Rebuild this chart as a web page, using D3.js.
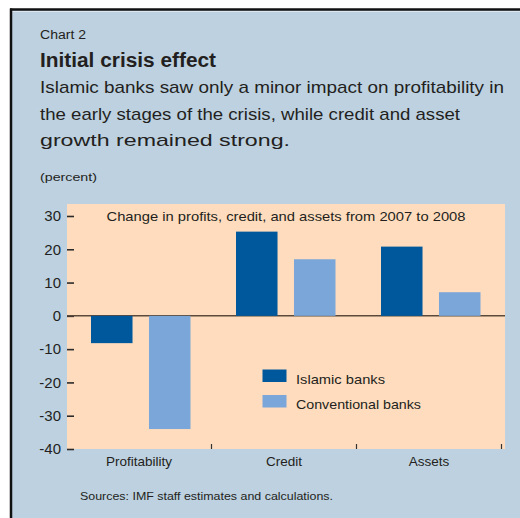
<!DOCTYPE html>
<html>
<head>
<meta charset="utf-8">
<script src="https://cdn.jsdelivr.net/npm/d3@7"></script>
<style>
  html, body { margin: 0; padding: 0; background: #ffffff; }
  svg { display: block; }
  text { font-family: "Liberation Sans Narrow", "Arial Narrow", "Liberation Sans", Arial, sans-serif; fill: #231f20; }
</style>
</head>
<body>
<svg id="chart" width="520" height="518"></svg>
<script>
// ---- data ----
const categories = ["Profitability", "Credit", "Assets"];
const seriesNames = ["Islamic banks", "Conventional banks"];
const islamicValues = [-8.2, 25.3, 20.8];
const conventionalValues = [-34.0, 17.0, 7.1];
const yTicks = [30, 20, 10, 0, -10, -20, -30, -40];

const chartLabel = "Chart 2";
const titleText = "Initial crisis effect";
const subtitleLines = [
  "Islamic banks saw only a minor impact on profitability in",
  "the early stages of the crisis, while credit and asset",
  "growth remained strong."
];
const unitText = "(percent)";
const innerTitle = "Change in profits, credit, and assets from 2007 to 2008";
const sourceText = "Sources: IMF staff estimates and calculations.";

// ---- styles ----
const colors = { "Islamic banks": "#00589c", "Conventional banks": "#7ba6d9" };
const panelFill = "#bdd1e0";
const plotFill = "#fedcbd";

const svg = d3.select("#chart");

// panel
svg.append("rect").attr("x", 11).attr("y", 10).attr("width", 509).attr("height", 508).attr("fill", panelFill);
svg.append("line").attr("x1", 10).attr("x2", 520).attr("y1", 9.5).attr("y2", 9.5).attr("stroke", "#111").attr("stroke-width", 2.5);
svg.append("line").attr("x1", 11).attr("x2", 520).attr("y1", 11.5).attr("y2", 11.5).attr("stroke", "#dbe6ee").attr("stroke-width", 1);
svg.append("line").attr("x1", 11).attr("x2", 11).attr("y1", 8.5).attr("y2", 518).attr("stroke", "#111").attr("stroke-width", 2.5);

function addText(str, x, y, size, len, opts = {}) {
  const t = svg.append("text").attr("x", x).attr("y", y)
    .style("font-size", size + "px")
    .text(str);
  if (opts.bold) t.style("font-weight", "bold");
  if (opts.anchor) t.attr("text-anchor", opts.anchor);
  if (len) t.attr("textLength", len).attr("lengthAdjust", "spacingAndGlyphs");
  return t;
}

addText(chartLabel, 40, 38.5, 12, 46);
addText(titleText, 40, 67, 20, 176, { bold: true });
const subBaselines = [93, 119.5, 146];
const subLens = [464, 420, 250];
subtitleLines.forEach((s, i) => addText(s, 40, subBaselines[i], 17, subLens[i]));
addText(unitText, 40, 181, 11, 57);

// plot area
const plot = { left: 67, right: 505, top: 204, bottom: 449 };
svg.append("rect").attr("x", plot.left).attr("y", plot.top)
  .attr("width", plot.right - plot.left).attr("height", plot.bottom - plot.top)
  .attr("fill", plotFill);

const y = d3.scaleLinear().domain([-40, 33.6]).range([plot.bottom, plot.top]);
const x = d3.scaleBand().domain(categories).range([66.5, 501.5]).paddingInner(0).paddingOuter(0);
const xInner = d3.scaleBand().domain(seriesNames).range([24.5, 124]).paddingInner(0.284).paddingOuter(0);

addText(innerTitle, 106.5, 220.5, 13, 359);

// y axis
const yAxis = d3.axisRight(y).tickValues(yTicks).tickSize(7).tickFormat(d => String(d));
const yg = svg.append("g").attr("transform", `translate(${plot.left},0)`).call(yAxis);
yg.select(".domain").remove();
yg.selectAll(".tick line").attr("stroke", "#2a2a2a").attr("stroke-width", 1.6);
yg.selectAll(".tick text")
  .attr("x", -6).attr("text-anchor", "end")
  .style("font-size", "15px").style("font-family", "'Liberation Sans', Arial, sans-serif")
  .attr("fill", "#231f20");

// zero line
svg.append("line").attr("x1", plot.left).attr("x2", plot.right)
  .attr("y1", y(0)).attr("y2", y(0)).attr("stroke", "#5b4a3c").attr("stroke-width", 1.5);

// bars
const rows = categories.map((c, i) => ({ cat: c, values: [
  { series: seriesNames[0], value: islamicValues[i] },
  { series: seriesNames[1], value: conventionalValues[i] }
]}));

const groups = svg.append("g").selectAll("g").data(rows).join("g")
  .attr("transform", d => `translate(${x(d.cat)},0)`);
groups.selectAll("rect").data(d => d.values).join("rect")
  .attr("x", d => xInner(d.series))
  .attr("width", xInner.bandwidth())
  .attr("y", d => y(Math.max(0, d.value)))
  .attr("height", d => Math.abs(y(d.value) - y(0)))
  .attr("fill", d => colors[d.series]);

// x axis
const xAxis = d3.axisBottom(x).tickSize(0).tickPadding(0);
const xg = svg.append("g").attr("transform", `translate(0,${plot.bottom})`).call(xAxis);
xg.select(".domain").remove();
xg.selectAll(".tick text")
  .attr("y", 17).attr("dy", 0)
  .style("font-size", "13.5px").attr("fill", "#231f20");

// category boundary ticks
svg.append("g").selectAll("line").data(categories).join("line")
  .attr("x1", d => x(d) + x.step()).attr("x2", d => x(d) + x.step())
  .attr("y1", plot.bottom - 5).attr("y2", plot.bottom)
  .attr("stroke", "#333").attr("stroke-width", 1.2);

// legend
const legend = svg.append("g");
seriesNames.forEach((s, i) => {
  const ly = 369.5 + i * 25.5;
  legend.append("rect").attr("x", 262.5).attr("y", ly).attr("width", 24).attr("height", 12.5).attr("fill", colors[s]);
});
addText(seriesNames[0], 296, 383.5, 13, 89);
addText(seriesNames[1], 296, 409, 13, 125);

addText(sourceText, 80, 500, 11, 253);
</script>
</body>
</html>
